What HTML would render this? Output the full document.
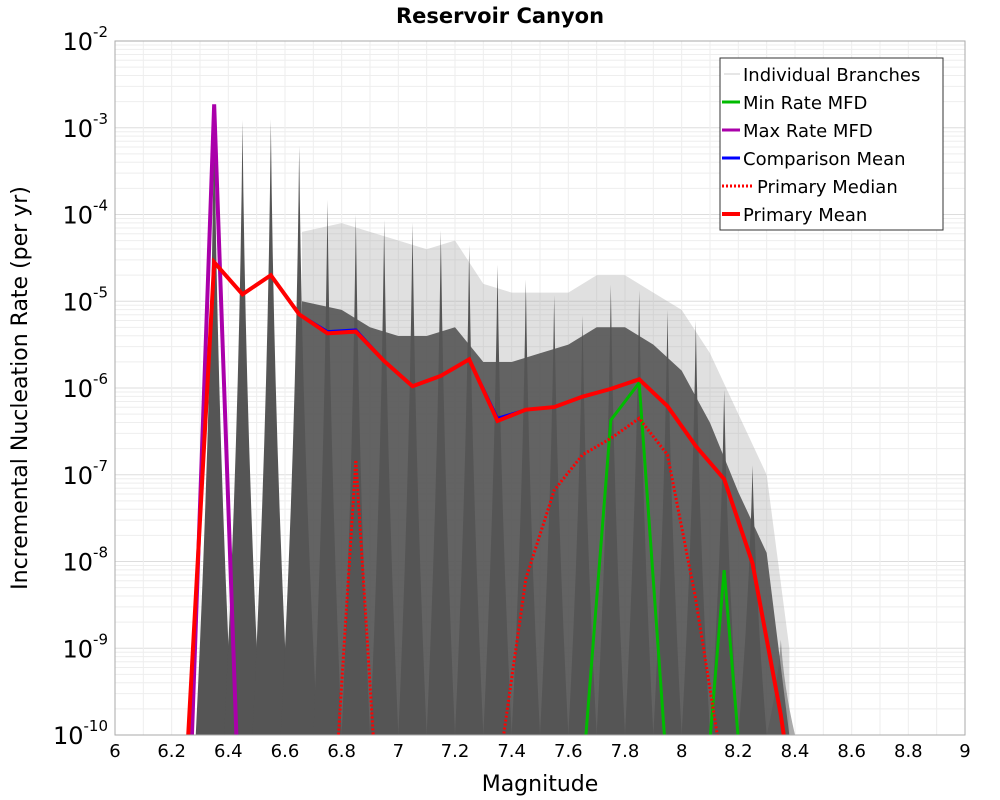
<!DOCTYPE html>
<html><head><meta charset="utf-8"><style>
html,body{margin:0;padding:0;background:#fff;overflow:hidden;width:1000px;height:800px;font-family:"Liberation Sans","DejaVu Sans",sans-serif}
svg{display:block}
svg text{font-family:"DejaVu Sans","Liberation Sans",sans-serif}
</style></head><body>
<svg id="chart" width="1000" height="800" xmlns="http://www.w3.org/2000/svg">
<text x="500" y="23" text-anchor="middle" font-size="21" font-weight="bold">Reservoir Canyon</text>
<g id="grid"></g>
<g id="branches"></g>
<g id="series"></g>
<rect x="115" y="41" width="850" height="694" fill="none" stroke="#aaa" stroke-width="1"/>
<g id="axes"></g>
<text x="540" y="791" text-anchor="middle" font-size="22">Magnitude</text>
<text transform="translate(27,388) rotate(-90)" text-anchor="middle" font-size="22">Incremental Nucleation Rate (per yr)</text>
<g>
<rect x="720" y="58" width="223" height="172" fill="#fff" stroke="#333" stroke-width="1"/>
<g><line x1="724" y1="74" x2="740" y2="74" stroke="#ccc" stroke-width="1"/><text x="743" y="81" font-size="18">Individual Branches</text></g>
<g><line x1="722" y1="102" x2="740" y2="102" stroke="#0b0" stroke-width="3"/><text x="743" y="109" font-size="18">Min Rate MFD</text></g>
<g><line x1="722" y1="130" x2="740" y2="130" stroke="#a0a" stroke-width="3"/><text x="743" y="137" font-size="18">Max Rate MFD</text></g>
<g><line x1="722" y1="158" x2="740" y2="158" stroke="#00f" stroke-width="3"/><text x="743" y="165" font-size="18">Comparison Mean</text></g>
<g><line x1="722" y1="186" x2="752" y2="186" stroke="#f00" stroke-width="3" stroke-dasharray="2,2"/><text x="757" y="193" font-size="18">Primary Median</text></g>
<g><line x1="722" y1="214" x2="740" y2="214" stroke="#f00" stroke-width="4"/><text x="743" y="221" font-size="18">Primary Mean</text></g>
</g>
</svg>
<script>
const mags=[6.25,6.35,6.45,6.55,6.65,6.75,6.85,6.95,7.05,7.15,7.25,7.35,7.45,7.55,7.65,7.75,7.85,7.95,8.05,8.15,8.25,8.35,8.45];
const meanLog=[-10.5,-4.55,-4.92,-4.70,-5.15,-5.37,-5.35,-5.69,-5.98,-5.86,-5.67,-6.38,-6.25,-6.22,-6.10,-6.01,-5.90,-6.21,-6.67,-7.05,-8.02,-9.77,-12];
const compLog=[-10.5,-4.55,-4.92,-4.70,-5.15,-5.35,-5.33,-5.69,-5.98,-5.86,-5.67,-6.35,-6.25,-6.22,-6.10,-6.01,-5.90,-6.21,-6.67,-7.05,-8.02,-9.77,-12];
const medianLog=[-12,-12,-12,-12,-12,-12,-6.83,-12,-12,-12,-12,-10.5,-8.2,-7.18,-6.77,-6.58,-6.35,-6.77,-8.44,-10.5,-12,-12,-12];
const minLog=[-12,-12,-12,-12,-12,-12,-12,-12,-12,-12,-12,-12,-12,-12,-10.5,-6.37,-5.94,-10.5,-12,-8.1,-12,-12,-12];
const maxLog=[-12,-2.73,-12,-12,-12,-12,-12,-12,-12,-12,-12,-12,-12,-12,-12,-12,-12,-12,-12,-12,-12,-12,-12];
const spikeMags=[6.35,6.45,6.55,6.65,6.75,6.85,6.95,7.05,7.15,7.25,7.35,7.45,7.55,7.65,7.75,7.85,7.95,8.05,8.15,8.25,8.35];
const spikePeak=[-2.73,-2.91,-2.90,-3.21,-3.83,-4.0,-4.06,-4.09,-4.18,-4.35,-4.58,-4.75,-4.93,-5.16,-4.81,-4.87,-5.10,-5.22,-6.02,-6.89,-8.9];
const envMags=[6.66,6.8,6.9,7.0,7.1,7.2,7.3,7.4,7.5,7.6,7.7,7.8,7.9,8.0,8.1,8.2,8.3,8.38];
const envLog=[-5.0,-5.1,-5.3,-5.4,-5.4,-5.3,-5.7,-5.7,-5.6,-5.5,-5.3,-5.3,-5.5,-5.8,-6.4,-7.2,-7.9,-10];
const lightLog=[-4.2,-4.1,-4.2,-4.3,-4.4,-4.3,-4.8,-4.9,-4.9,-4.9,-4.7,-4.7,-4.9,-5.1,-5.6,-6.3,-7.0,-9];
const xTicks=[6,6.2,6.4,6.6,6.8,7,7.2,7.4,7.6,7.8,8,8.2,8.4,8.6,8.8,9];
const yTicks=[-2,-3,-4,-5,-6,-7,-8,-9,-10];
const NS="http://www.w3.org/2000/svg";
const X=m=>115+(m-6)/3*850;
const Y=l=>41+(-2-l)/8*694;
function mk(p,t,a){const e=document.createElementNS(NS,t);for(const k in a)e.setAttribute(k,a[k]);p.appendChild(e);return e;}
const grid=document.getElementById('grid'),axes=document.getElementById('axes'),br=document.getElementById('branches'),se=document.getElementById('series');
for(let d=-10;d<-2;d++){for(let k=2;k<10;k++){const l=mk(grid,'line',{x1:115,x2:965,y1:Y(d+Math.log10(k)),y2:Y(d+Math.log10(k)),stroke:'#eee','stroke-width':1});

}}
yTicks.forEach(t=>{const l=mk(grid,'line',{x1:115,x2:965,y1:Y(t),y2:Y(t),stroke:'#ddd','stroke-width':1});


const tx=mk(axes,'text',{x:108,y:Y(t)+9,'text-anchor':'end','font-size':24});


tx.textContent='10';const s=mk(tx,'tspan',{dy:-13,'font-size':15});s.textContent=String(t);});
for(let m=6.1;m<9;m+=0.1){const l=mk(grid,'line',{x1:X(m),x2:X(m),y1:41,y2:735,stroke:'#eee','stroke-width':1});

}
xTicks.forEach(t=>{const tx=mk(axes,'text',{x:X(t),y:757,'text-anchor':'middle','font-size':18});


tx.textContent=String(t);});
const cl=document.createElementNS(NS,'clipPath');cl.id='pc';mk(cl,'rect',{x:115,y:41,width:850,height:694});br.appendChild(cl);
br.setAttribute('clip-path','url(#pc)');se.setAttribute('clip-path','url(#pc)');
function envPath(arr){let ep='M'+X(envMags[0])+',735 ';envMags.forEach((m,i)=>ep+='L'+X(m)+','+Y(arr[i])+' ');return ep+'L'+X(envMags[envMags.length-1])+',735Z';}
const lenv=mk(br,'path',{d:envPath(lightLog),fill:'#999','fill-opacity':0.3});


const env=mk(br,'path',{d:envPath(envLog),fill:'#555','fill-opacity':0.9});


spikeMags.forEach((m,i)=>{const x=X(m),yt=Y(spikePeak[i]),w=(i<4?0.065:0.05)/3*850;
const d=`M${x-w},735 Q${x-3},${(yt+735)/2} ${x},${yt} Q${x+3},${(yt+735)/2} ${x+w},735Z`;
const p=mk(br,'path',{d:d,fill:'#555','fill-opacity':i==20?0.5:1});

});
function line(arr,color,w,dash,name){let d='';arr.forEach((v,i)=>d+=(i?'L':'M')+X(mags[i])+','+Y(v)+' ');
const p=mk(se,'path',{d:d,fill:'none',stroke:color,'stroke-width':w,'stroke-linejoin':'miter'});if(dash)p.setAttribute('stroke-dasharray',dash);

}
line(maxLog,'#a0a',4,null,'max-rate-line');
line(minLog,'#0b0',3,null,'min-rate-line');
line(medianLog,'#f00',3,'2,2','primary-median-line');
line(compLog,'#00f',3,null,'comparison-mean-line');
line(meanLog,'#f00',4,null,'primary-mean-line');
</script>
</body></html>
